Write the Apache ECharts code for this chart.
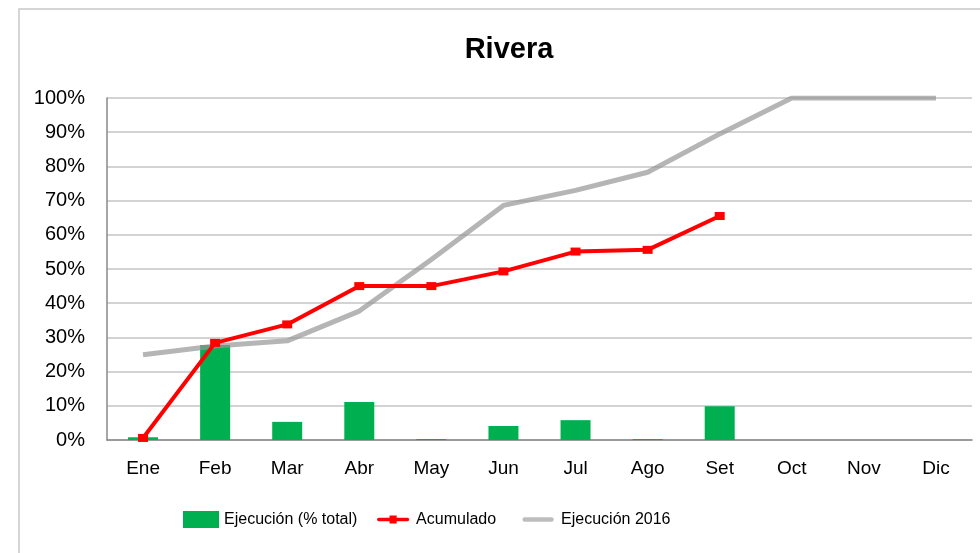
<!DOCTYPE html>
<html>
<head>
<meta charset="utf-8">
<script src="https://cdn.jsdelivr.net/npm/echarts@6/dist/echarts.min.js"></script>
<style>
  html, body { margin: 0; padding: 0; background: #fff; }
  #chart { width: 980px; height: 553px; }
</style>
</head>
<body>
<div id="chart"></div>
<script>
const months = ['Ene', 'Feb', 'Mar', 'Abr', 'May', 'Jun', 'Jul', 'Ago', 'Set', 'Oct', 'Nov', 'Dic']
// ejecucion mensual (% del total)
const ejecucion = [0.8, 27.8, 5.3, 11.1, 0.3, 4.1, 5.8, 0.3, 9.9, null, null, null]
const acumulado = [0.6, 28.4, 33.8, 45.0, 45.0, 49.3, 55.1, 55.6, 65.5, null, null, null]
const ejecucion2016 = [24.9, 27.5, 29.0, 37.7, 52.8, 68.6, 73.0, 78.3, 89.5, 100, 100, 100]

const font = 'Liberation Sans'
const chart = echarts.init(document.getElementById('chart'))

// the two extra tiny moves keep the icon box at 36x19
const box = ' M0,0 L0,0.01 M36,19 L36,19.01'

const legendBase = {
  top: 506,
  itemWidth: 36,
  itemHeight: 17,
  textStyle: { fontFamily: font, fontSize: 16, color: '#000' },
  selectedMode: false
}

chart.setOption({
  animation: false,
  title: {
    text: 'Rivera',
    left: 504,
    textAlign: 'center',
    top: 30,
    textStyle: { fontFamily: font, fontSize: 29, fontWeight: 'bold', color: '#000' }
  },
  graphic: [{
    type: 'rect',
    shape: { x: 19, y: 9, width: 1000, height: 600 },
    style: { fill: 'none', stroke: '#c8c8c8', lineWidth: 1.5 },
    silent: true
  }],
  legend: [
    Object.assign({}, legendBase, {
      left: 178,
      data: [{ name: 'Ejecución (% total)', icon: 'rect' }]
    }),
    Object.assign({}, legendBase, {
      left: 372,
      data: [{
        name: 'Acumulado',
        icon: 'path://M2,7.5 L14,7.5 L14,5 L22,5 L22,7.5 L34,7.5 A2,2 0 0 1 34,11.5 L22,11.5 L22,14 L14,14 L14,11.5 L2,11.5 A2,2 0 0 1 2,7.5 Z' + box,
        itemStyle: { color: '#ff0000' }
      }]
    }),
    Object.assign({}, legendBase, {
      left: 517,
      data: [{
        name: 'Ejecución 2016',
        icon: 'path://M3,7 L33,7 A2.5,2.5 0 0 1 33,12 L3,12 A2.5,2.5 0 0 1 3,7 Z' + box,
        itemStyle: { color: '#bdbdbd' }
      }]
    })
  ],
  grid: { left: 107, right: 8, top: 98, bottom: 113 },
  xAxis: {
    type: 'category',
    data: months,
    axisLine: { lineStyle: { color: '#888', width: 1.5 } },
    axisTick: { show: false },
    axisLabel: { fontFamily: font, fontSize: 19, color: '#000', margin: 19 }
  },
  yAxis: {
    type: 'value',
    min: 0,
    max: 100,
    interval: 10,
    axisLine: { show: true, lineStyle: { color: '#888', width: 1.5 } },
    axisTick: { show: false },
    splitLine: { lineStyle: { color: '#c4c4c4', width: 1.5 } },
    axisLabel: {
      fontFamily: font, fontSize: 20, color: '#000', margin: 22,
      formatter: v => v + '%'
    }
  },
  series: [
    {
      name: 'Ejecución (% total)',
      type: 'bar',
      data: ejecucion,
      barWidth: 30,
      itemStyle: { color: '#00b050' },
      z: 1
    },
    {
      name: 'Ejecución 2016',
      type: 'line',
      data: ejecucion2016,
      symbol: 'none',
      lineStyle: { color: 'rgba(150,150,150,0.7)', width: 5 },
      itemStyle: { color: 'rgba(150,150,150,0.65)' },
      z: 2
    },
    {
      name: 'Acumulado',
      type: 'line',
      data: acumulado,
      symbol: 'rect',
      symbolSize: [10, 8],
      lineStyle: { color: '#ff0000', width: 4 },
      itemStyle: { color: '#ff0000' },
      z: 3
    }
  ]
})
</script>
</body>
</html>
